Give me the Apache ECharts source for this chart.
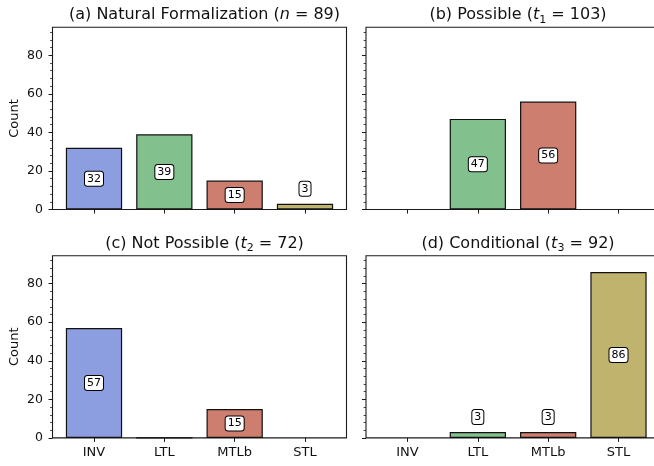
<!DOCTYPE html>
<html>
<head>
<meta charset="utf-8">
<script src="https://cdn.jsdelivr.net/npm/echarts@6/dist/echarts.min.js"></script>
<style>html,body{margin:0;padding:0;background:#fff}#c{width:654px;height:466px}</style>
</head>
<body>
<div id="c"></div>
<script>
const categories = ['INV', 'LTL', 'MTLb', 'STL'];
const barColors = ['#8c9ee0', '#82c18d', '#cd7e6e', '#c0b36e'];
const panelTitles = [
  '(a) Natural Formalization ({i|n} = 89)',
  '(b) Possible ({i|t}{s|1} = 103)',
  '(c) Not Possible ({i|t}{s|2} = 72)',
  '(d) Conditional ({i|t}{s|3} = 92)'
];
const valuesA = [32, 39, 15, 3];
const valuesB = [null, 47, 56, null];
const valuesC = [57, 0, 15, null];
const valuesD = [null, 3, 3, 86];
const yTicks = [0, 20, 40, 60, 80];
const yMax = 94.5;

const panels = [valuesA, valuesB, valuesC, valuesD];
const FONT = 'DejaVu Sans';
const gridPos = [
  {left: 52.5, top: 27.3, width: 294, height: 182.2},
  {left: 366, top: 27.3, width: 294, height: 182.2},
  {left: 52.5, top: 255.7, width: 294, height: 182.2},
  {left: 366, top: 255.7, width: 294, height: 182.2}
];
const minorTicks = [];
for (let v = 0; v <= yMax; v += 4) if (v % 20 !== 0) minorTicks.push(v);
const catIdx = categories.map((c, i) => i);

const option = {
  animation: false,
  backgroundColor: '#fff',
  title: [], grid: [], xAxis: [], yAxis: [], series: []
};

panels.forEach((vals, p) => {
  const g = gridPos[p];
  const leftCol = p % 2 === 0;
  const bottomRow = p >= 2;
  option.grid.push(Object.assign({show: true, borderColor: '#1a1a1a', borderWidth: 1.1, backgroundColor: 'transparent',
    containLabel: false, outerBoundsMode: 'none'}, g));
  option.title.push({
    text: panelTitles[p],
    left: g.left + g.width / 2, top: g.top - 27, textAlign: 'center',
    textStyle: {fontFamily: FONT, fontSize: 16, fontWeight: 'normal', color: '#111', lineHeight: 20,
      rich: {
        i: {fontFamily: FONT, fontSize: 16, fontStyle: 'italic', color: '#111', lineHeight: 20},
        s: {fontFamily: FONT, fontSize: 11, color: '#111', lineHeight: 11, verticalAlign: 'bottom'}
      }}
  });
  option.xAxis.push({
    type: 'value', gridIndex: p, min: -0.59, max: 3.59,
    splitLine: {show: false}, axisLine: {show: false, onZero: false},
    axisTick: {show: true, inside: false, length: 4, customValues: catIdx, lineStyle: {color: '#1a1a1a', width: 1}},
    axisLabel: {show: bottomRow, customValues: catIdx, formatter: v => categories[Math.round(v)] || '',
      fontFamily: FONT, fontSize: 13, color: '#111', margin: 8}
  });
  option.yAxis.push({
    type: 'value', gridIndex: p, min: 0, max: yMax, interval: 20, position: 'left',
    splitLine: {show: false}, axisLine: {show: false, onZero: false},
    name: leftCol ? 'Count' : '', nameLocation: 'middle', nameGap: 31,
    nameTextStyle: {fontFamily: FONT, fontSize: 13, color: '#111'},
    axisTick: {show: true, inside: false, length: 4, customValues: yTicks, lineStyle: {color: '#1a1a1a', width: 1}},
    axisLabel: {show: leftCol, customValues: yTicks, fontFamily: FONT, fontSize: 12.5, color: '#111', margin: 9.5}
  });
  const minorIdx = option.yAxis.length;
  option.yAxis.push({
    type: 'value', gridIndex: p, min: 0, max: yMax, position: 'left',
    splitLine: {show: false}, axisLine: {show: false, onZero: false}, axisLabel: {show: false},
    axisTick: {show: true, inside: false, length: 2.4, customValues: minorTicks, lineStyle: {color: '#1a1a1a', width: 0.8}}
  });
  const yIdx = minorIdx - 1;
  option.series.push({
    type: 'bar', xAxisIndex: p, yAxisIndex: yIdx, barWidth: '80%',
    data: vals.map((v, i) => {
      if (v === null) return {value: [i, '-']};
      const small = v < 10;
      return {
        value: [i, v],
        itemStyle: {color: barColors[i], borderColor: '#111', borderWidth: 1.2},
        label: {
          show: v > 0,
          position: small ? 'top' : 'inside',
          distance: 8,
          formatter: String(v),
          fontFamily: FONT, fontSize: 11, color: '#000',
          backgroundColor: '#fff', borderColor: '#000', borderWidth: 1, borderRadius: 2.5,
          padding: [2, 2, 1, 2], lineHeight: 11
        }
      };
    })
  });
});

const chart = echarts.init(document.getElementById('c'), null, {renderer: 'canvas'});
chart.setOption(option);
</script>
</body>
</html>
